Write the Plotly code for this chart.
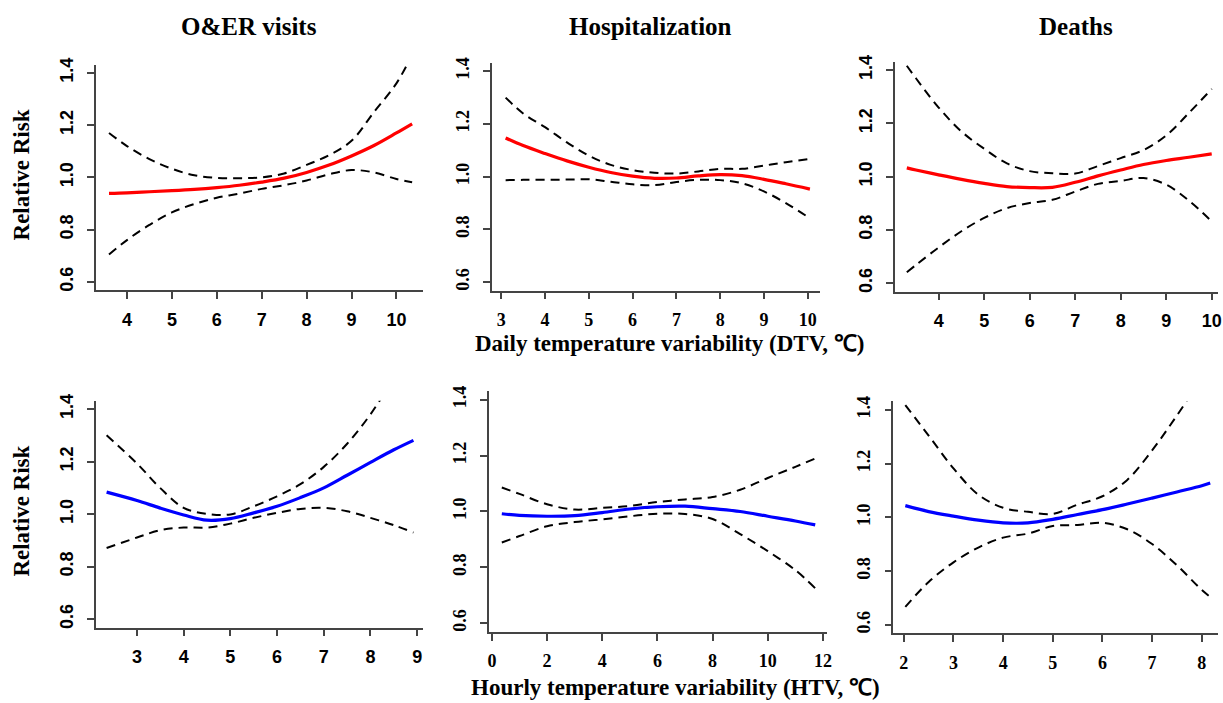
import plotly.graph_objects as go

W, H = 1223, 703

# ---------------- data ----------------
# Row 1: Daily temperature variability (DTV)
p1_x = [3.6, 4, 4.5, 5, 5.5, 6, 6.5, 7, 7.5, 8, 8.5, 9, 9.5, 10, 10.35]
p1_rr = [0.939, 0.941, 0.945, 0.949, 0.954, 0.961, 0.970, 0.982, 0.997, 1.019, 1.047, 1.082, 1.122, 1.170, 1.205]
p1_up = [1.170, 1.120, 1.070, 1.033, 1.008, 0.998, 0.997, 1.000, 1.015, 1.048, 1.085, 1.140, 1.250, 1.360, 1.470]
p1_lo = [0.705, 0.760, 0.818, 0.866, 0.898, 0.922, 0.938, 0.956, 0.970, 0.988, 1.012, 1.028, 1.019, 0.994, 0.981]

p2_x = [3.1, 3.5, 4, 4.5, 5, 5.5, 6, 6.5, 7, 7.5, 8, 8.5, 9, 9.5, 10.05]
p2_rr = [1.147, 1.118, 1.088, 1.060, 1.036, 1.016, 1.002, 0.994, 0.995, 1.003, 1.008, 1.004, 0.990, 0.973, 0.953]
p2_up = [1.300, 1.240, 1.188, 1.130, 1.080, 1.045, 1.025, 1.015, 1.012, 1.020, 1.030, 1.030, 1.042, 1.055, 1.068]
p2_lo = [0.987, 0.988, 0.988, 0.989, 0.990, 0.981, 0.971, 0.968, 0.980, 0.988, 0.987, 0.975, 0.944, 0.900, 0.842]

p3_x = [3.3, 3.5, 4, 4.5, 5, 5.5, 6, 6.5, 7, 7.5, 8, 8.5, 9, 9.5, 10]
p3_rr = [1.033, 1.025, 1.007, 0.990, 0.975, 0.963, 0.959, 0.960, 0.979, 1.003, 1.025, 1.046, 1.061, 1.073, 1.086]
p3_up = [1.417, 1.370, 1.260, 1.170, 1.105, 1.050, 1.021, 1.013, 1.012, 1.040, 1.070, 1.100, 1.155, 1.240, 1.330]
p3_lo = [0.641, 0.668, 0.734, 0.795, 0.845, 0.882, 0.901, 0.913, 0.944, 0.973, 0.984, 0.995, 0.970, 0.910, 0.832]

# Row 2: Hourly temperature variability (HTV)
p4_x = [2.35, 3, 3.5, 4, 4.5, 5, 5.5, 6, 6.5, 7, 7.5, 8, 8.5, 8.92]
p4_rr = [1.084, 1.052, 1.023, 0.997, 0.977, 0.983, 1.005, 1.030, 1.063, 1.100, 1.148, 1.197, 1.245, 1.281]
p4_up = [1.300, 1.193, 1.099, 1.024, 1.001, 0.999, 1.030, 1.068, 1.114, 1.180, 1.268, 1.380, 1.520, 1.650]
p4_lo = [0.871, 0.911, 0.939, 0.949, 0.949, 0.964, 0.986, 1.005, 1.020, 1.024, 1.011, 0.986, 0.958, 0.930]

p5_x = [0.36, 1, 2, 3, 4, 5, 6, 7, 8, 9, 10, 11, 11.72]
p5_rr = [0.992, 0.986, 0.983, 0.985, 0.996, 1.009, 1.017, 1.019, 1.010, 1.000, 0.983, 0.966, 0.952]
p5_up = [1.086, 1.063, 1.026, 1.007, 1.013, 1.020, 1.034, 1.043, 1.052, 1.078, 1.120, 1.160, 1.190]
p5_lo = [0.889, 0.912, 0.947, 0.962, 0.972, 0.983, 0.992, 0.991, 0.973, 0.919, 0.858, 0.790, 0.725]

p6_x = [2.03, 2.5, 3, 3.5, 4, 4.5, 5, 5.5, 6, 6.5, 7, 7.5, 8, 8.17]
p6_rr = [1.044, 1.022, 1.005, 0.990, 0.980, 0.980, 0.993, 1.011, 1.029, 1.050, 1.072, 1.095, 1.118, 1.128]
p6_up = [1.418, 1.305, 1.183, 1.085, 1.036, 1.021, 1.013, 1.048, 1.079, 1.140, 1.250, 1.380, 1.520, 1.570]
p6_lo = [0.667, 0.760, 0.833, 0.888, 0.925, 0.940, 0.968, 0.972, 0.980, 0.956, 0.901, 0.822, 0.730, 0.704]

titles = ["O&ER visits", "Hospitalization", "Deaths"]
xtitle_dtv = "Daily temperature variability (DTV, ℃)"
xtitle_htv = "Hourly temperature variability (HTV, ℃)"
ytitle = "Relative Risk"
y_ticks = [0.6, 0.8, 1.0, 1.2, 1.4]
x_ticks = [
    [4, 5, 6, 7, 8, 9, 10],
    [3, 4, 5, 6, 7, 8, 9, 10],
    [4, 5, 6, 7, 8, 9, 10],
    [3, 4, 5, 6, 7, 8, 9],
    [0, 2, 4, 6, 8, 10, 12],
    [2, 3, 4, 5, 6, 7, 8],
]

panels = [
    (p1_x, p1_rr, p1_up, p1_lo, "#ff0000"),
    (p2_x, p2_rr, p2_up, p2_lo, "#ff0000"),
    (p3_x, p3_rr, p3_up, p3_lo, "#ff0000"),
    (p4_x, p4_rr, p4_up, p4_lo, "#0000ff"),
    (p5_x, p5_rr, p5_up, p5_lo, "#0000ff"),
    (p6_x, p6_rr, p6_up, p6_lo, "#0000ff"),
]

# ---------------- layout geometry (pixels) ----------------
boxes = [
    (95, 424, 58.2, 286.5),
    (493.3, 823.3, 56.5, 286.8),
    (898.3, 1223, 55.4, 287.9),
    (95, 424, 398.2, 627.8),
    (490, 830, 388.3, 632.3),
    (896.7, 1223, 399, 633.7),
]
x_ranges = [
    [3.30, 10.59],
    [2.786, 10.286],
    [3.038, 10.138],
    [2.113, 9.123],
    [-0.119, 12.144],
    [1.788, 8.327],
]
y_range = [0.568, 1.432]
fonts = ["Liberation Sans", "Liberation Serif", "Liberation Sans",
         "Liberation Sans", "Liberation Serif", "Liberation Serif"]
SERIF = "Liberation Serif, Times New Roman, serif"

fig = go.Figure()
layout = dict(
    width=W, height=H,
    margin=dict(l=0, r=0, t=0, b=0),
    paper_bgcolor="white", plot_bgcolor="white",
    showlegend=False,
)

dash = "9px,6px"
for i, (xs, rr, up, lo, col) in enumerate(panels):
    n = i + 1
    xa = "x" if n == 1 else f"x{n}"
    ya = "y" if n == 1 else f"y{n}"
    for ys in (up, lo):
        fig.add_trace(go.Scatter(x=xs, y=ys, mode="lines", xaxis=xa, yaxis=ya,
                                 line=dict(color="black", width=2, dash=dash,
                                           shape="spline", smoothing=1.0),
                                 hoverinfo="skip"))
    fig.add_trace(go.Scatter(x=xs, y=rr, mode="lines", xaxis=xa, yaxis=ya,
                             line=dict(color=col, width=3.2, shape="spline",
                                       smoothing=1.0)))
    l, r, t, b = boxes[i]
    tf = dict(family=fonts[i], size=18, color="black", weight="bold")
    layout["xaxis" if n == 1 else f"xaxis{n}"] = dict(
        domain=[l / W, min(r / W, 1.0)], range=x_ranges[i],
        anchor=ya, showgrid=False, zeroline=False,
        showline=True, linecolor="#444", linewidth=1.5,
        ticks="outside", ticklen=7, tickwidth=1.5, tickcolor="#444",
        tickvals=x_ticks[i], ticktext=[str(v) for v in x_ticks[i]],
        tickfont=tf, ticklabelstandoff=5,
    )
    layout["yaxis" if n == 1 else f"yaxis{n}"] = dict(
        domain=[1 - b / H, 1 - t / H], range=y_range,
        anchor=xa, showgrid=False, zeroline=False,
        showline=True, linecolor="#444", linewidth=1.5,
        ticks="outside", ticklen=7, tickwidth=1.5, tickcolor="#444",
        tickvals=y_ticks, ticktext=[f"{v:.1f}" for v in y_ticks],
        tickangle=-90, tickfont=tf, ticklabelstandoff=7,
    )

annotations = []
def ann(text, px, py, size, angle=0):
    annotations.append(dict(
        text=f"<b>{text}</b>", x=px / W, y=1 - py / H, xref="paper", yref="paper",
        xanchor="center", yanchor="middle", showarrow=False, textangle=angle,
        font=dict(family=SERIF, size=size, color="black"),
    ))

ann(titles[0], 248.8, 25, 25)
ann(titles[1], 653, 25, 25)
ann(titles[2], 1080, 25, 25)
ann(ytitle, 20.5, 170, 23, -90)
ann(ytitle, 20.5, 510, 23, -90)
ann(xtitle_dtv, 671.7, 340, 23)
ann(xtitle_htv, 677.5, 688, 23)
layout["annotations"] = annotations
for a in annotations[:3]:
    a["y"] = 1 - 20 / H

fig.update_layout(**layout)
fig.write_html("out.html")
